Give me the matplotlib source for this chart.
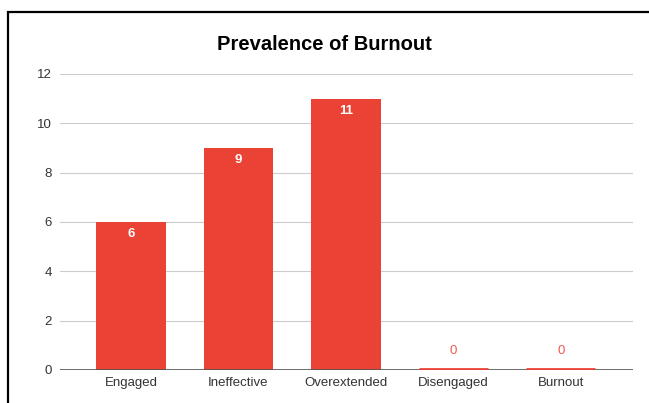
import matplotlib.pyplot as plt
from matplotlib.patches import Rectangle

categories = ['Engaged', 'Ineffective', 'Overextended', 'Disengaged', 'Burnout']
counts = [6, 9, 11, 0, 0]
yticks = [0, 2, 4, 6, 8, 10, 12]

RED = '#ea4335'

plt.rcParams['font.family'] = ['Liberation Sans', 'DejaVu Sans']

fig = plt.figure(figsize=(6.49, 4.03), dpi=100)
ax = fig.add_axes([0.0925, 0.0819, 0.8825, 0.7345])

x = list(range(len(categories)))
ax.bar(x, counts, width=0.645, color=RED, zorder=3)
ax.axhline(0, color='#555555', linewidth=1.2, zorder=5)

for xi, c in zip(x, counts):
  if c > 0:
    ax.text(xi, c - 0.5, str(c), ha='center', va='center',
            color='white', fontsize=9.5, fontweight='bold', zorder=4)
  else:
    # empty categories still get a thin red line on the baseline
    ax.plot([xi - 0.3225, xi + 0.3225], [0.04, 0.04], color=RED,
            linewidth=2, solid_capstyle='butt', zorder=6)
    ax.text(xi, 0.78, str(c), ha='center', va='center',
            color='#f05a4e', fontsize=9.5, zorder=4)

ax.set_xlim(-0.66, 4.67)
ax.set_ylim(0, 12)
ax.set_yticks(yticks)
ax.set_xticks(x)
ax.set_xticklabels(categories)
ax.grid(axis='y', color='#cccccc', linewidth=0.8, zorder=0)
for s in ax.spines.values():
  s.set_visible(False)
ax.tick_params(length=0, labelsize=9.5, colors='#333333')
ax.tick_params(axis='y', pad=6)
ax.tick_params(axis='x', pad=5)

fig.text(0.5, 0.89, 'Prevalence of Burnout', ha='center', va='center',
         fontsize=14.5, fontweight='bold', color='black')

# black frame around the chart, cut off at the right and bottom
fig.patches.append(Rectangle((8 / 649, -0.1), 1.2, (403 - 12) / 403 + 0.1,
                             transform=fig.transFigure, fill=False,
                             edgecolor='black', linewidth=1.6))

fig.savefig('out.png', dpi=100)
